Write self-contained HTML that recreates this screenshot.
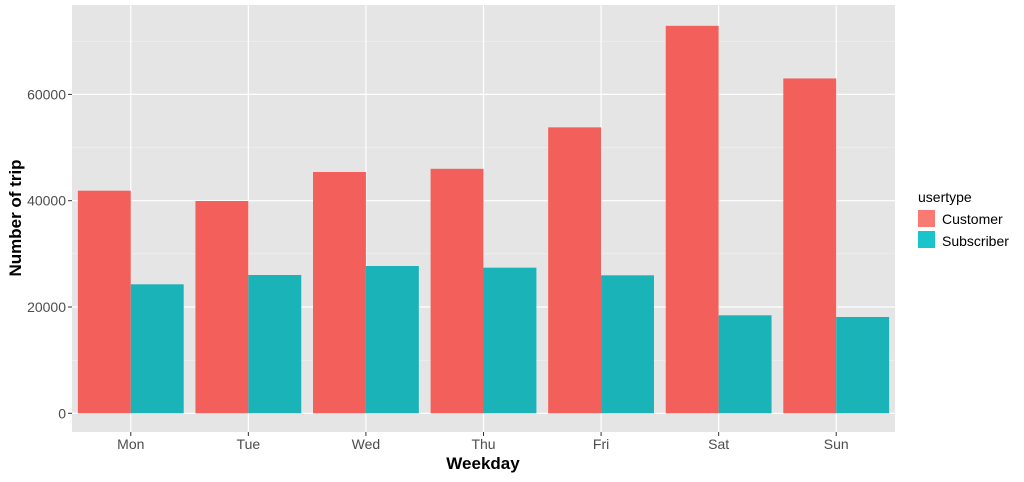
<!DOCTYPE html>
<html><head><meta charset="utf-8"><style>
body{margin:0;background:#fff;}
svg text{font-family:"Liberation Sans",Arial,sans-serif;}
</style></head><body>
<svg id="chart" width="1024" height="477" xmlns="http://www.w3.org/2000/svg">
<rect x="72" y="5" width="823" height="427" fill="#e5e5e5"/>
<g id="grid"></g><g id="bars"></g><g id="axes"></g>
<text x="483" y="469" font-size="17" font-weight="bold" text-anchor="middle">Weekday</text>
<text transform="translate(21,218) rotate(-90)" font-size="17" font-weight="bold" text-anchor="middle">Number of trip</text>
<g>
<text x="918" y="202" font-size="14">usertype</text>
<g><rect x="918" y="210" width="17" height="17" fill="#F8766D" opacity="0.97"/><text x="942" y="224" font-size="14">Customer</text></g>
<g><rect x="918" y="231" width="17" height="17" fill="#00BFC4" opacity="0.9"/><text x="942" y="246" font-size="14">Subscriber</text></g>
</g>
</svg>
<script>
const categories=["Mon","Tue","Wed","Thu","Fri","Sat","Sun"];
const customer=[41880,39940,45400,46000,53800,72900,63000];
const subscriber=[24270,26020,27710,27400,25960,18440,18120];
const yTicks=[0,20000,40000,60000];
const NS="http://www.w3.org/2000/svg";
const x0=72,x1=895,y0px=413.3,pxPer=106.3/20000;
const step=(x1-x0)/categories.length;
const xc=i=>x0+step*(i+0.5);
const y=v=>y0px-v*pxPer;
function mk(t,a,p){const e=document.createElementNS(NS,t);for(const k in a)e.setAttribute(k,a[k]);p.appendChild(e);return e;}
const grid=document.getElementById('grid'),bars=document.getElementById('bars'),axes=document.getElementById('axes');
for(let k=0;k<yTicks.length;k++){
 const v=yTicks[k];
 if(k<yTicks.length-1){const m=mk('line',{x1:x0,x2:x1,y1:y(v+10000),y2:y(v+10000),stroke:'#f2f2f2','stroke-width':0.6},grid);
 
 }
 const g=mk('line',{x1:x0,x2:x1,y1:y(v),y2:y(v),stroke:'#fff','stroke-width':1.2},grid);
 
 
 const t=mk('text',{x:66,y:y(v)+5,'font-size':14,fill:'#4d4d4d','text-anchor':'end'},axes);t.textContent=v;
 
 
 mk('line',{x1:68,x2:72,y1:y(v),y2:y(v),stroke:'#333'},axes);
}
{const m=mk('line',{x1:x0,x2:x1,y1:y(70000),y2:y(70000),stroke:'#f2f2f2','stroke-width':0.6},grid);

}
const bw=step*0.9/2;
categories.forEach((c,i)=>{
 const g=mk('line',{x1:xc(i),x2:xc(i),y1:5,y2:432,stroke:'#fff','stroke-width':1.2},grid);
 
 
 const a=mk('rect',{x:xc(i)-bw,y:y(customer[i]),width:bw,height:y(0)-y(customer[i]),fill:'#F35F5A'},bars);
 
 
 const b=mk('rect',{x:xc(i),y:y(subscriber[i]),width:bw,height:y(0)-y(subscriber[i]),fill:'#19B3B8'},bars);
 
 
 mk('line',{x1:xc(i),x2:xc(i),y1:432,y2:436,stroke:'#333'},axes);
 const t=mk('text',{x:xc(i),y:449,'font-size':14,fill:'#4d4d4d','text-anchor':'middle'},axes);t.textContent=c;
 
 
});
</script>
</body></html>
